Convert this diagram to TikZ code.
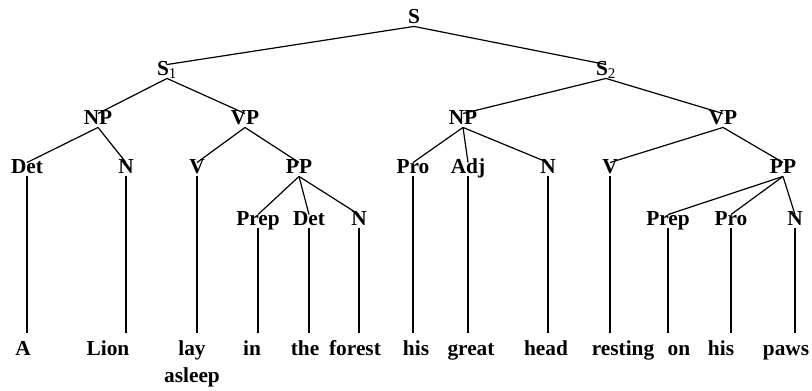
\documentclass[tikz,border=0pt]{standalone}
\usepackage{fontspec}
\setmainfont{Liberation Serif}
\usepackage{tikz}
\tikzset{
  cat/.style={font=\fontsize{16}{19}\selectfont\bfseries, inner sep=1pt,
    text height=1.45ex, text depth=0.3ex, anchor=base},
  word/.style={cat},
  branch/.style={line width=0.9pt},
}
% branch from a category down to its word
\def\stem#1#2{\draw[branch, shorten >=9pt] (#1.south) -- (#1.south |- #2.north);}

\begin{document}
\begin{tikzpicture}[x=0.75pt, y=-0.75pt]
  \useasboundingbox (0,0) rectangle (812,390);
  % top of the tree
  \node[cat] (s)  at (414,23) {S};
  \node[cat] (s1) at (167,75) {S\textsubscript{\mdseries 1}};
  \node[cat] (s2) at (606,75) {S\textsubscript{\mdseries 2}};
  % first clause
  \node[cat] (np1)   at (98,124)  {NP};
  \node[cat] (vp1)   at (245,124) {VP};
  \node[cat] (det1)  at (27,173)  {Det};
  \node[cat] (n1)    at (126,173) {N};
  \node[cat] (v1)    at (197,173) {V};
  \node[cat] (pp1)   at (299,173) {PP};
  \node[cat] (prep1) at (258,225) {Prep};
  \node[cat] (det2)  at (309,225) {Det};
  \node[cat] (n2)    at (359,225) {N};
  % second clause
  \node[cat] (np2)   at (463,124) {NP};
  \node[cat] (vp2)   at (723,124) {VP};
  \node[cat] (pro1)  at (413,173) {Pro};
  \node[cat] (adj)   at (468,173) {Adj};
  \node[cat] (n3)    at (548,173) {N};
  \node[cat] (v2)    at (610,173) {V};
  \node[cat] (pp2)   at (783,173) {PP};
  \node[cat] (prep2) at (668,225) {Prep};
  \node[cat] (pro2)  at (731,225) {Pro};
  \node[cat] (n4)    at (795,225) {N};
  % the words
  \node[word] (wa)       at (23,355)  {A};
  \node[word] (wlion)    at (108,355) {Lion};
  \node[word] (wlay)     at (192,355)
    {\begin{tabular}[t]{@{}c@{}}lay\\[1.3pt]asleep\end{tabular}};
  \node[word] (win)      at (252,355) {in};
  \node[word] (wthe)     at (305,355) {the};
  \node[word] (wforest)  at (355,355) {forest};
  \node[word] (whis)     at (416,355) {his};
  \node[word] (wgreat)   at (471,355) {great};
  \node[word] (whead)    at (546,355) {head};
  \node[word] (wresting) at (623,355) {resting};
  \node[word] (won)      at (679,355) {on};
  \node[word] (whisb)    at (721,355) {his};
  \node[word] (wpaws)    at (786,355) {paws};

  \foreach \p/\c in {s/s1, s/s2, s1/np1, s1/vp1, np1/det1, np1/n1,
      vp1/v1, vp1/pp1, pp1/prep1, pp1/det2, pp1/n2,
      s2/np2, s2/vp2, np2/pro1, np2/adj, np2/n3, vp2/v2, vp2/pp2,
      pp2/prep2, pp2/pro2, pp2/n4}
    \draw[branch] (\p.south) -- (\c.north);

  \stem{det1}{wa}
  \stem{n1}{wlion}
  \stem{v1}{wlay}
  \stem{prep1}{win}
  \stem{det2}{wthe}
  \stem{n2}{wforest}
  \stem{pro1}{whis}
  \stem{adj}{wgreat}
  \stem{n3}{whead}
  \stem{v2}{wresting}
  \stem{prep2}{won}
  \stem{pro2}{whisb}
  \stem{n4}{wpaws}
\end{tikzpicture}
\end{document}
